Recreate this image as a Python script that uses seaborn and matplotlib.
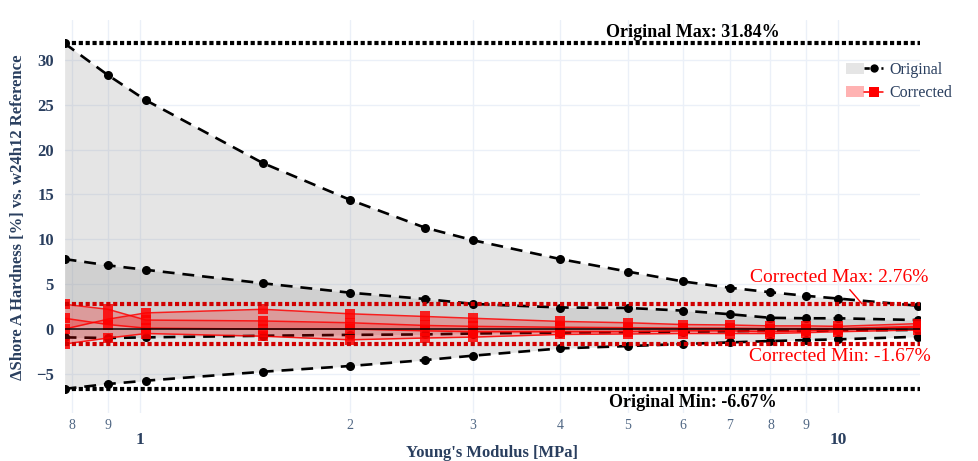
import numpy as np
import pandas as pd
import matplotlib
matplotlib.use("Agg")
import matplotlib.pyplot as plt
import seaborn as sns
from matplotlib.lines import Line2D
from matplotlib.patches import Patch
from matplotlib.legend_handler import HandlerTuple
from matplotlib.ticker import FixedLocator

# ---------------- data ----------------
modulus = [0.78, 0.9, 1.02, 1.5, 2.0, 2.56, 3.0, 4.0, 5.0, 6.0, 7.0, 8.0, 9.0, 10.0, 13.0]

orig_upper = [31.84, 28.3, 25.5, 18.5, 14.4, 11.3, 9.9, 7.8, 6.4, 5.3, 4.6, 4.1, 3.7, 3.4, 2.6]
orig_mid_hi = [7.8, 7.1, 6.6, 5.1, 4.05, 3.35, 2.8, 2.4, 2.35, 2.05, 1.65, 1.25, 1.2, 1.2, 1.0]
orig_mid_lo = [-0.93, -1.0, -0.93, -0.75, -0.65, -0.6, -0.5, -0.4, -0.35, -0.3, -0.25, -0.2, -0.2, -0.15, -0.1]
orig_lower = [-6.67, -6.13, -5.76, -4.76, -4.12, -3.46, -2.97, -2.16, -1.9, -1.67, -1.49, -1.34, -1.23, -1.15, -0.86]

corr_a = [2.76, 2.2, 1.0, 0.9, 0.7, 0.4, 0.3, 0.2, 0.15, 0.1, 0.1, 0.05, 0.05, 0.05, 0.3]
corr_b = [0.0, 1.1, 1.8, 2.2, 1.7, 1.4, 1.2, 0.85, 0.7, 0.5, 0.45, 0.35, 0.35, 0.3, 0.6]
corr_c = [1.2, 0.5, 0.1, 0.0, 0.0, -0.2, -0.3, -0.3, -0.3, -0.2, -0.2, -0.3, -0.2, -0.1, 0.2]
corr_d = [-1.67, -1.0, -0.5, -0.8, -1.2, -1.0, -0.9, -0.6, -0.55, -0.5, -0.5, -0.5, -0.4, -0.3, -0.1]

orig_max, orig_min = 31.84, -6.67
corr_max, corr_min = 2.76, -1.67

major_ticks = [1, 10]
major_labels = ["1", "10"]
minor_ticks = [0.8, 0.9, 2, 3, 4, 5, 6, 7, 8, 9]
minor_labels = ["8", "9", "2", "3", "4", "5", "6", "7", "8", "9"]
y_ticks = [-5, 0, 5, 10, 15, 20, 25, 30]

# ---------------- style ----------------
sns.set_theme(style="white")
plt.rcParams["font.family"] = ["Liberation Serif", "DejaVu Serif"]
TXT = "#2a3f5f"
GRID = "#ebf0f8"

W, H = 979, 461
fig = plt.figure(figsize=(W / 100, H / 100), dpi=100)
ax = fig.add_axes([65 / W, 1 - 413 / H, (920 - 65) / W, (413 - 20) / H])
ax.set_xscale("log")
ax.set_xlim(0.781, 13.1)
ax.set_ylim(-9.36, 34.45)

x = np.array(modulus)

# fills (original)
ax.fill_between(x, orig_upper, orig_lower, color="gray", alpha=0.2, lw=0, zorder=1)
ax.fill_between(x, orig_mid_hi, orig_mid_lo, color="gray", alpha=0.2, lw=0, zorder=1)

dash = (0, (4.5, 3))
for ys in [orig_upper, orig_mid_hi, orig_mid_lo, orig_lower]:
    df = pd.DataFrame({"x": modulus, "y": ys})
    sns.lineplot(data=df, x="x", y="y", ax=ax, color="black", lw=1.9,
                 linestyle=dash, marker="o", markersize=6.5, markeredgewidth=0,
                 sort=False, estimator=None, zorder=3)

# fills (corrected)
ax.fill_between(x, corr_a, corr_d, color="red", alpha=0.25, lw=0, zorder=4)
ax.fill_between(x, corr_b, corr_c, color="red", alpha=0.25, lw=0, zorder=4)

for ys in [corr_a, corr_b, corr_c, corr_d]:
    df = pd.DataFrame({"x": modulus, "y": ys})
    sns.lineplot(data=df, x="x", y="y", ax=ax, color="red", lw=1.1, alpha=0.85,
                 marker="s", markersize=6.5, markeredgewidth=0,
                 sort=False, estimator=None, zorder=5)

# zero line and reference lines
ax.axhline(0, color="black", lw=1.3, alpha=0.8, zorder=6)
dot = (0, (1.0, 0.65))
for yv in [orig_max, orig_min]:
    ax.axhline(yv, color="black", lw=3.0, linestyle=dot, zorder=7, dash_capstyle="butt")
for yv in [corr_max, corr_min]:
    ax.axhline(yv, color="#d00000", lw=3.0, linestyle=dot, zorder=7, dash_capstyle="butt")

# annotations
ax.text(0.734, orig_max + 0.3, f"Original Max: {orig_max:.2f}%", transform=ax.get_yaxis_transform(),
        ha="center", va="bottom", fontsize=13, fontweight="bold", color="black", zorder=8)
ax.text(0.734, -8.2, f"Original Min: {orig_min:.2f}%", transform=ax.get_yaxis_transform(),
        ha="center", va="center", fontsize=13, fontweight="bold", color="black", zorder=8)
ax.annotate(f"Corrected Max: {corr_max:.2f}%", xy=(10.82, corr_max + 0.05), xytext=(10.05, 5.7),
            textcoords="data", ha="center", va="center", fontsize=14, color="red", zorder=8,
            arrowprops=dict(arrowstyle="-", color="red", lw=1.0, shrinkA=0, shrinkB=0))
ax.text(10.05, -3.1, f"Corrected Min: {corr_min:.2f}%", ha="center", va="center",
        fontsize=14, color="red", zorder=8)

# axes styling
for s in ax.spines.values():
    s.set_visible(False)
ax.xaxis.set_major_locator(FixedLocator(major_ticks))
ax.xaxis.set_minor_locator(FixedLocator(minor_ticks))
ax.set_xticklabels(major_labels, fontsize=12.5, fontweight="bold", color=TXT)
ax.set_xticklabels(minor_labels, minor=True, fontsize=10, color="#506784")
ax.tick_params(axis="x", which="major", length=0, pad=14)
ax.tick_params(axis="x", which="minor", length=0, pad=4)
ax.set_yticks(y_ticks)
ax.set_yticklabels([str(v).replace("-", "\u2212") for v in y_ticks], fontsize=12,
                   fontweight="bold", color=TXT)
ax.tick_params(axis="y", length=0, pad=8)
ax.grid(True, which="both", color=GRID, lw=1.0, zorder=0)
ax.set_axisbelow(True)

ax.set_xlabel("")
fig.text((65 + 920) / 2 / W, 1 - 453 / H, "Young's Modulus [MPa]", ha="center", va="center",
         fontsize=12, fontweight="bold", color=TXT)
ax.set_ylabel("")
fig.text(18 / W, 1 - 217 / H, "\u0394Shore A Hardness [%] vs. w24h12 Reference", rotation=90,
         ha="center", va="center", fontsize=12, fontweight="bold", color=TXT)

# legend
h_orig = (Patch(facecolor="gray", alpha=0.2, lw=0),
          Line2D([], [], color="black", lw=1.9, linestyle=(0, (2, 1.2)), marker="o",
                 markersize=6, markeredgewidth=0))
h_corr = (Patch(facecolor="red", alpha=0.3, lw=0),
          Line2D([], [], color="red", lw=1.1, marker="s", markersize=7, markeredgewidth=0))
leg = ax.legend([h_orig, h_corr], ["Original", "Corrected"],
                handler_map={tuple: HandlerTuple(ndivide=None, pad=0)},
                loc="upper left", bbox_to_anchor=((846 - 65) / 855, (413 - 62) / 393),
                frameon=False, fontsize=11.5, handlelength=2.3, handleheight=0.7,
                labelspacing=0.45, handletextpad=0.4, borderaxespad=0, borderpad=0)
for t in leg.get_texts():
    t.set_color(TXT)

fig.savefig("out.png", dpi=100)
